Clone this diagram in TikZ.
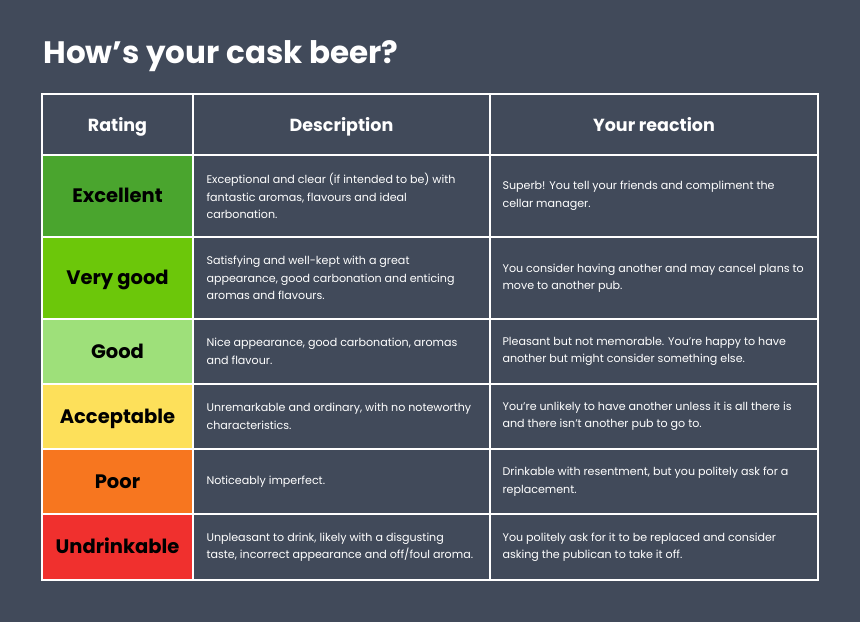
\documentclass[tikz,border=0pt]{standalone}
\usepackage{fontspec}
\setmainfont{Poppins}
\definecolor{bg}{HTML}{414A5A}
\definecolor{cA}{HTML}{4AA52E}
\definecolor{cB}{HTML}{6CC70A}
\definecolor{cC}{HTML}{9EE07A}
\definecolor{cD}{HTML}{FDE05A}
\definecolor{cE}{HTML}{F7761F}
\definecolor{cF}{HTML}{F0302E}
\begin{document}
\begin{tikzpicture}[x=1pt,y=-1pt,
  cellline/.style={draw=white,line width=2pt},
  hdr/.style={text=white,font=\fontsize{17.5}{20}\selectfont\bfseries,anchor=base},
  rat/.style={text=black,font=\fontsize{19.5}{22}\selectfont\bfseries,anchor=base},
  txt/.style={text=white,font=\fontsize{11.1}{17.5}\selectfont,align=left,anchor=west}]
\fill[bg] (0,0) rectangle (860,622);
\useasboundingbox (0,0) rectangle (860,622);
\node[anchor=base west,text=white,font=\fontsize{31}{34}\selectfont\bfseries] (title) at (40,63) {How’s your cask beer?};
% colored rating cells
\fill[cA] (42,155) rectangle (193,237);
\fill[cB] (42,237) rectangle (193,319);
\fill[cC] (42,319) rectangle (193,384);
\fill[cD] (42,384) rectangle (193,449);
\fill[cE] (42,449) rectangle (193,514);
\fill[cF] (42,514) rectangle (193,580);
% grid
\draw[cellline] (42,94) rectangle (818,580);
\foreach \y in {155,237,319,384,449,514} \draw[cellline] (42,\y) -- (818,\y);
\draw[cellline] (193,94) -- (193,580);
\draw[cellline] (490,94) -- (490,580);
% header
\node[hdr] (h1) at (117.5,131) {Rating};
\node[hdr] (h2) at (341.5,131) {Description};
\node[hdr] (h3) at (654,131) {Your reaction};
% ratings
\node[rat] (r1) at (117.5,202.5) {Excellent};
\node[rat] (r2) at (117.5,284.5) {Very good};
\node[rat] (r3) at (117.5,358) {Good};
\node[rat] (r4) at (117.5,423) {Acceptable};
\node[rat] (r5) at (117.5,488) {Poor};
\node[rat] (r6) at (117.5,553.5) {Undrinkable};
% descriptions
\node[txt] (d1) at (203,196) {Exceptional and clear (if intended to be) with\\fantastic aromas, flavours and ideal\\carbonation.};
\node[txt] (d2) at (203,278) {Satisfying and well-kept with a great\\appearance, good carbonation and enticing\\aromas and flavours.};
\node[txt] (d3) at (203,351.5) {Nice appearance, good carbonation, aromas\\and flavour.};
\node[txt] (d4) at (203,416.5) {Unremarkable and ordinary, with no noteworthy\\characteristics.};
\node[txt] (d5) at (203,481.5) {Noticeably imperfect.};
\node[txt] (d6) at (203,547) {Unpleasant to drink, likely with a disgusting\\taste, incorrect appearance and off/foul aroma.};
% reactions
\node[txt] (e1) at (499,196) {Superb! You tell your friends and compliment the\\cellar manager.};
\node[txt] (e2) at (499,278) {You consider having another and may cancel plans to\\move to another pub.};
\node[txt] (e3) at (499,351.5) {Pleasant but not memorable. You’re happy to have\\another but might consider something else.};
\node[txt] (e4) at (499,416.5) {You’re unlikely to have another unless it is all there is\\and there isn’t another pub to go to.};
\node[txt] (e5) at (499,481.5) {Drinkable with resentment, but you politely ask for a\\replacement.};
\node[txt] (e6) at (499,547) {You politely ask for it to be replaced and consider\\asking the publican to take it off.};
\end{tikzpicture}
\end{document}
